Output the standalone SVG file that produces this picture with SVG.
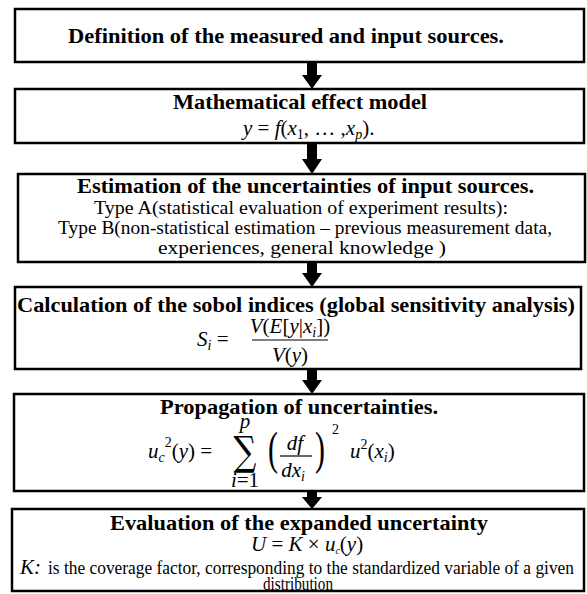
<svg xmlns="http://www.w3.org/2000/svg" width="587" height="594" viewBox="0 0 587 594">
<style>
.box{fill:#fff;stroke:#000;stroke-width:2.5}
.b{font-family:"Liberation Serif",serif;font-weight:bold;font-size:21px;fill:#000}
.r{font-family:"Liberation Serif",serif;font-size:18px;fill:#000}
.m{font-family:"Liberation Serif",serif;font-style:italic;font-size:21px;fill:#000}
.mu{font-style:normal}
.sub{font-size:14px}
.arr{fill:#000}
</style>
<rect width="587" height="594" fill="#fff"/>
<g id="connectors">
<path class="arr" d="M307,62 H317 V75 H322 L312,89 L302,75 H307 Z"/>
<path class="arr" d="M307,143 H317 V159 H322 L312,174 L302,159 H307 Z"/>
<path class="arr" d="M307,262 H317 V273 H322 L312,287 L302,273 H307 Z"/>
<path class="arr" d="M307,369 H317 V380 H322 L312,394 L302,380 H307 Z"/>
<path class="arr" d="M307,491 H317 V497 H322 L312,509 L302,497 H307 Z"/>
</g>
<g id="n1">
<rect class="box" x="15" y="9" width="569" height="53"/>
<text class="b" x="68" y="43" textLength="436" lengthAdjust="spacingAndGlyphs">Definition of the measured and input sources.</text>
</g>
<g id="n2">
<rect class="box" x="15" y="89" width="569" height="54"/>
<text class="b" x="173" y="109" textLength="254" lengthAdjust="spacingAndGlyphs">Mathematical effect model</text>
<text class="m" x="243" y="135">y <tspan class="mu">=</tspan> f<tspan class="mu">(</tspan>x<tspan class="sub mu" dy="4">1</tspan><tspan dy="-4" class="mu">, … ,</tspan>x<tspan class="sub" dy="4">p</tspan><tspan dy="-4" class="mu">).</tspan></text>
</g>
<g id="n3">
<rect class="box" x="18" y="174" width="567" height="88"/>
<text class="b" x="77" y="193" textLength="457" lengthAdjust="spacingAndGlyphs">Estimation of the uncertainties of input sources.</text>
<text class="r" x="94" y="214" textLength="414" lengthAdjust="spacingAndGlyphs">Type A(statistical  evaluation of experiment results):</text>
<text class="r" x="58" y="234" textLength="494" lengthAdjust="spacingAndGlyphs">Type B(non-statistical  estimation – previous measurement data,</text>
<text class="r" x="158" y="254" textLength="288" lengthAdjust="spacingAndGlyphs">experiences, general knowledge )</text>
</g>
<g id="n4">
<rect class="box" x="15" y="287" width="566" height="82"/>
<text class="b" x="17" y="312" textLength="558" lengthAdjust="spacingAndGlyphs">Calculation of the sobol indices (global sensitivity analysis)</text>
<text class="m" x="197" y="346">S<tspan class="sub" dy="4">i</tspan><tspan dy="-4" class="mu"> =</tspan></text>
<line x1="252" y1="340" x2="328" y2="340" stroke="#000" stroke-width="1.2"/>
<text class="m" x="290" y="333" text-anchor="middle">V<tspan class="mu">(</tspan>E<tspan class="mu">[</tspan>y<tspan class="mu">|</tspan>x<tspan class="sub" dy="4">i</tspan><tspan dy="-4" class="mu">])</tspan></text>
<text class="m" x="290" y="362" text-anchor="middle">V<tspan class="mu">(</tspan>y<tspan class="mu">)</tspan></text>
</g>
<g id="n5">
<rect class="box" x="14" y="394" width="570" height="97"/>
<text class="b" x="160" y="414" textLength="278" lengthAdjust="spacingAndGlyphs">Propagation of uncertainties.</text>
<text class="m" x="148" y="458">u<tspan class="sub" dy="4">c</tspan><tspan class="sub mu" dy="-15">2</tspan><tspan dy="11" class="mu">(</tspan>y<tspan class="mu">) =</tspan></text>
<text x="245" y="465" font-size="32" text-anchor="middle" font-family="DejaVu Serif,serif" transform="translate(245 465) scale(1 1.25) translate(-245 -465)">∑</text>
<text class="m" x="245" y="428" font-size="13" text-anchor="middle">p</text>
<text class="m" x="245" y="487" font-size="13" text-anchor="middle">i<tspan class="mu">=1</tspan></text>
<text x="268" y="464" font-size="46" font-family="Liberation Serif,serif" transform="translate(268 464) scale(0.65 1) translate(-268 -464)">(</text>
<text x="315" y="464" font-size="46" font-family="Liberation Serif,serif" transform="translate(315 464) scale(0.65 1) translate(-315 -464)">)</text>
<line x1="280" y1="456" x2="312" y2="456" stroke="#000" stroke-width="1.2"/>
<text class="m" x="295" y="450" text-anchor="middle">df</text>
<text class="m" x="293" y="477" text-anchor="middle">dx<tspan class="sub" dy="4">i</tspan></text>
<text x="332" y="434" font-size="14" font-family="Liberation Serif,serif">2</text>
<text class="m" x="350" y="458">u<tspan class="sub mu" dy="-9">2</tspan><tspan dy="9" class="mu">(</tspan>x<tspan class="sub" dy="4">i</tspan><tspan dy="-4" class="mu">)</tspan></text>
</g>
<g id="n6">
<rect class="box" x="12" y="509" width="572" height="82"/>
<text class="b" x="110" y="530" textLength="378" lengthAdjust="spacingAndGlyphs">Evaluation of the expanded uncertainty</text>
<text class="m" x="251" y="551" font-size="14">U <tspan class="mu">=</tspan> K  <tspan class="mu">×</tspan> u<tspan font-size="10" dy="3">c</tspan><tspan dy="-3" class="mu">(</tspan>y<tspan class="mu">)</tspan></text>
<text x="20" y="574" font-family="Liberation Serif,serif" font-style="italic" font-size="21">K:</text>
<text class="r" x="48" y="574" font-size="15" textLength="526" lengthAdjust="spacingAndGlyphs">is the coverage factor, corresponding to the  standardized variable of a given</text>
<text class="r" x="263" y="590" font-size="15" textLength="70" lengthAdjust="spacingAndGlyphs">distribution</text>
</g>
</svg>
